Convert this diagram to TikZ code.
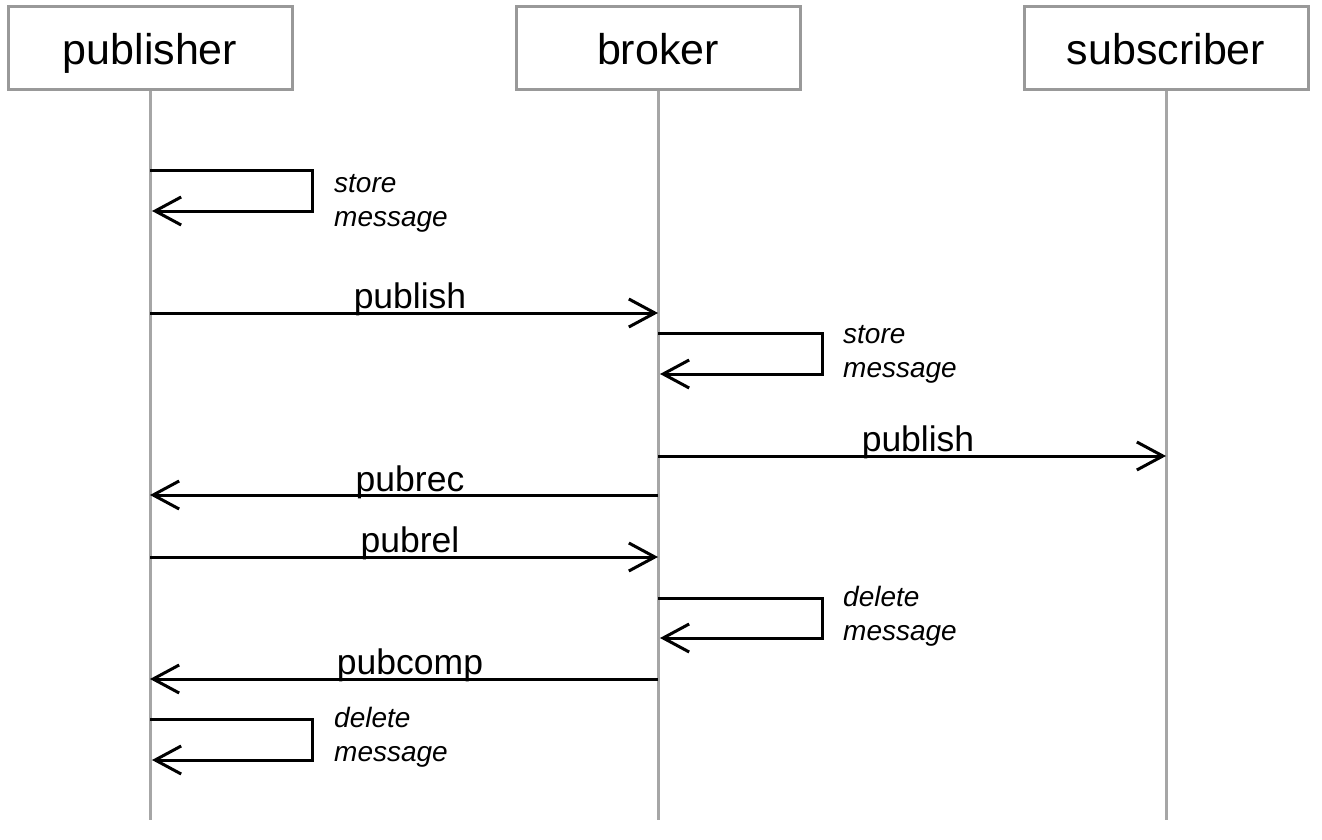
\documentclass[tikz,border=0pt]{standalone}
\usepackage{fontspec}
\setmainfont{Liberation Sans}
\usetikzlibrary{arrows.meta}
\begin{document}
\begin{tikzpicture}[x=1pt,y=-1pt,
  actor/.style={draw=black!40, line width=3pt, minimum width=284pt, minimum height=83pt,
    font=\fontsize{43}{50}\selectfont, inner sep=0pt, text depth=0pt},
  life/.style={draw=black!35, line width=3pt},
  msg/.style={line width=3pt, -{Straight Barb[length=26pt,width=28pt,line width=3pt]}},
  lbl/.style={font=\fontsize{35.5}{42}\selectfont, anchor=base, inner sep=0pt},
  note/.style={font=\itshape\fontsize{28}{34}\selectfont, align=left, anchor=north west, inner sep=0pt}]
\useasboundingbox (0,0) rectangle (1322,840);

% actors
\node[actor] (pub) at (150,48.5) {publisher};
\node[actor] (bro) at (658,48.5) {broker};
\node[actor] (sub) at (1166,48.5) {subscriber};

% lifeline ends
\coordinate (pubend) at (150,820);
\coordinate (broend) at (658,820);
\coordinate (subend) at (1166,820);
\draw[life] (pub.south) -- (pubend);
\draw[life] (bro.south) -- (broend);
\draw[life] (sub.south) -- (subend);

% self message: publisher store
\coordinate (s1a) at (150,170);
\coordinate (s1b) at (152,211);
\draw[msg] (s1a) -- ++(162,0) |- (s1b);
\node[note] (n1) at (334,174) {store\\message};

% publish pub -> broker
\coordinate (m1a) at (150,313);
\coordinate (m1b) at (658,313);
\draw[msg] (m1a) -- (m1b) node[lbl, midway, yshift=5pt, xshift=6pt] (l1) {publish};

% self message: broker store
\coordinate (s2a) at (658,333);
\coordinate (s2b) at (660,374);
\draw[msg] (s2a) -- ++(164,0) |- (s2b);
\node[note] (n2) at (843,325) {store\\message};

% publish broker -> subscriber
\coordinate (m2a) at (658,456);
\coordinate (m2b) at (1166,456);
\draw[msg] (m2a) -- (m2b) node[lbl, midway, yshift=5pt, xshift=6pt] (l2) {publish};

% pubrec broker -> pub
\coordinate (m3a) at (658,495);
\coordinate (m3b) at (150,495);
\draw[msg] (m3a) -- (m3b) node[lbl, midway, yshift=4pt, xshift=6pt] (l3) {pubrec};

% pubrel pub -> broker
\coordinate (m4a) at (150,557);
\coordinate (m4b) at (658,557);
\draw[msg] (m4a) -- (m4b) node[lbl, midway, yshift=5pt, xshift=6pt] (l4) {pubrel};

% self message: broker delete
\coordinate (s3a) at (658,598);
\coordinate (s3b) at (660,638);
\draw[msg] (s3a) -- ++(164,0) |- (s3b);
\node[note] (n3) at (843,586) {delete\\message};

% pubcomp broker -> pub
\coordinate (m5a) at (658,679);
\coordinate (m5b) at (150,679);
\draw[msg] (m5a) -- (m5b) node[lbl, midway, yshift=5pt, xshift=6pt] (l5) {pubcomp};

% self message: publisher delete
\coordinate (s4a) at (150,719);
\coordinate (s4b) at (152,760);
\draw[msg] (s4a) -- ++(162,0) |- (s4b);
\node[note] (n4) at (334,707) {delete\\message};
\end{tikzpicture}
\end{document}
